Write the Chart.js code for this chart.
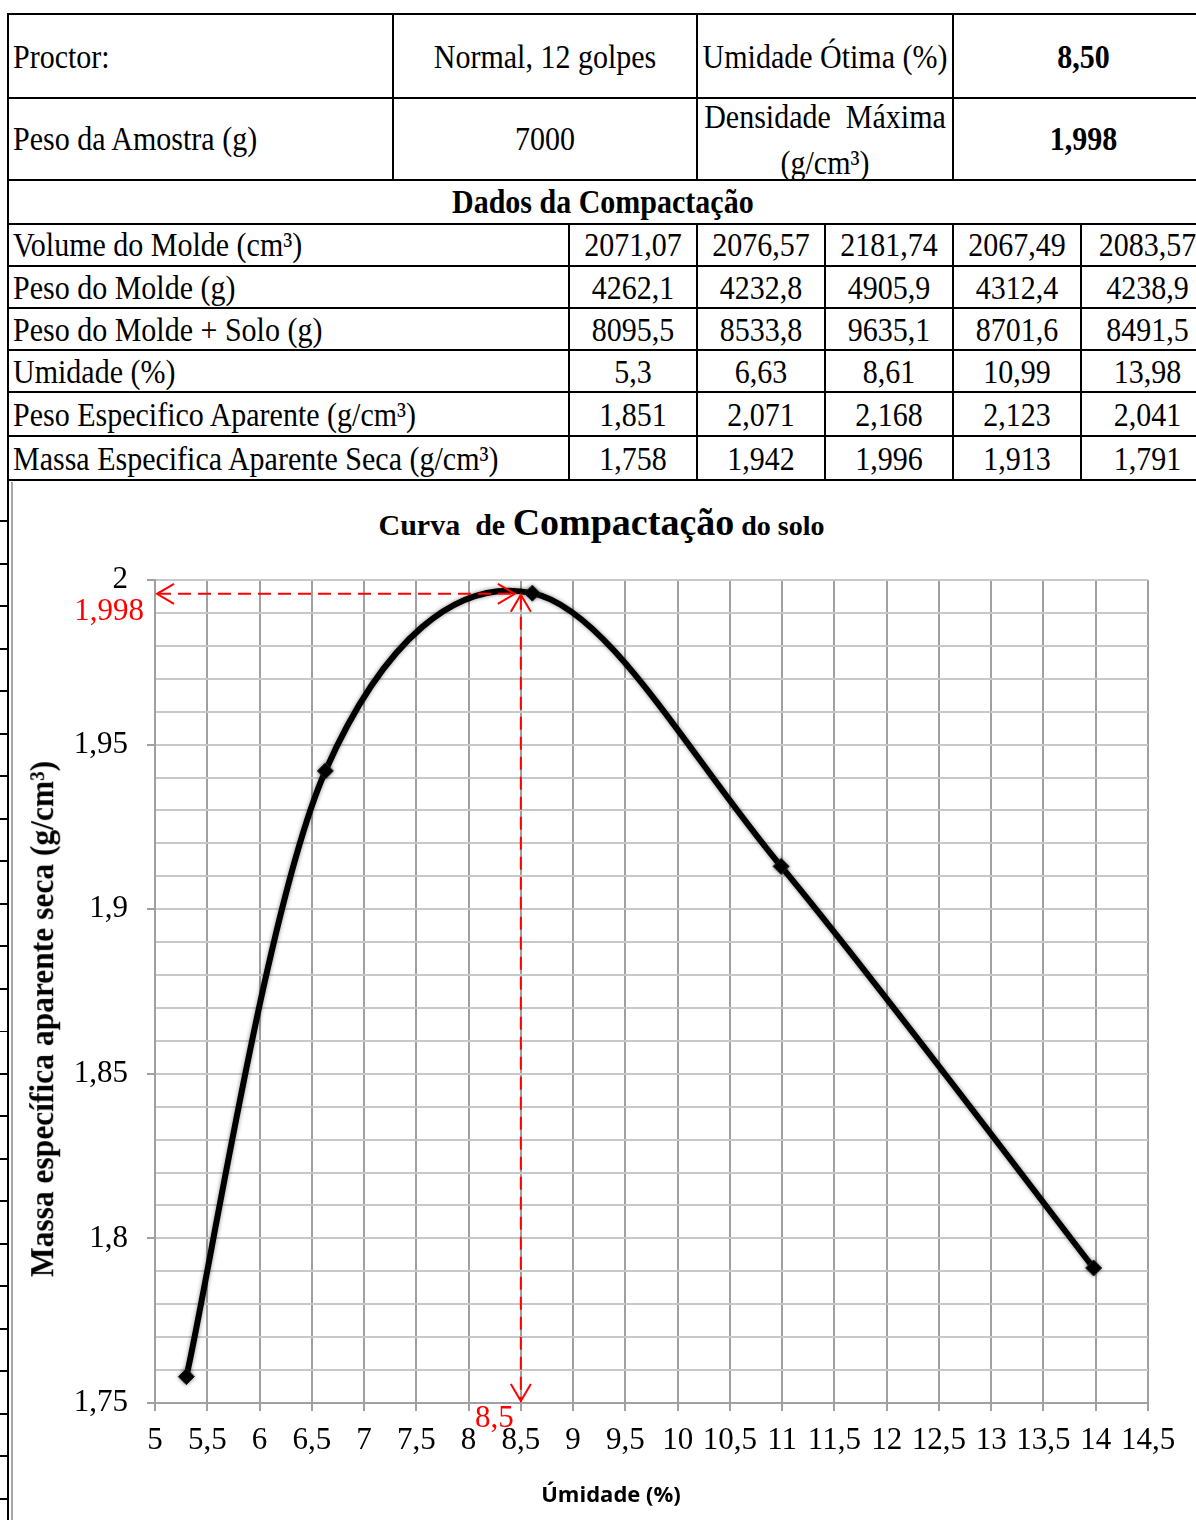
<!DOCTYPE html>
<html>
<head>
<meta charset="utf-8">
<script src="https://cdn.jsdelivr.net/npm/chart.js@4/dist/chart.umd.min.js"></script>
<style>
  html, body { margin: 0; padding: 0; background: #fff; }
  body { width: 1196px; height: 1520px; position: relative; overflow: hidden; font-family: 'Liberation Serif', 'Times New Roman', serif; }
  table.data { position: absolute; left: 7px; top: 13px; border-collapse: collapse; table-layout: fixed; width: 1206px; }
  table.data td { border: 2px solid #000; font-size: 30px; color: #000; padding: 0 4px; white-space: nowrap; overflow: hidden; }
  table.data td span { display: inline-block; transform: scaleY(1.15); }
  td.c { text-align: center; }
  td.b { font-weight: bold; }
  .frame-black { position: absolute; left: 7px; top: 480px; width: 2px; height: 1040px; background: #000; }
  .frame-gray { position: absolute; left: 11px; top: 482px; width: 2px; height: 1038px; background: #a6a6a6; }
  .frame-ticks { position: absolute; left: 0; top: 480px; width: 7px; height: 1040px;
    background: repeating-linear-gradient(to bottom, transparent 0, transparent 40.5px, #000 40.5px, #000 42.5px); }
  #wrap { position: absolute; left: 0; top: 482px; width: 1196px; height: 1038px; }
  .title { position: absolute; left: 0; width: 1203px; top: 497px; text-align: center; font-weight: bold; color: #000; white-space: nowrap; line-height: 50px; }
  .ytitle { position: absolute; left: 42px; top: 1019px; transform: translate(-50%, -50%) rotate(-90deg) scaleY(1.1); font-weight: bold; font-size: 31.5px; white-space: nowrap; color: #000; }
  .xtitle { position: absolute; left: 611px; top: 1493px; transform: translate(-50%, -50%); font-family: 'Open Sans', sans-serif; font-weight: bold; font-size: 22px; white-space: nowrap; color: #000; }
</style>
</head>
<body>
<table class="data">
  <colgroup>
    <col style="width:385px"><col style="width:176px"><col style="width:128px"><col style="width:128px"><col style="width:128px"><col style="width:128px"><col style="width:133px">
  </colgroup>
  <tr style="height:84px"><td><span>Proctor:</span></td><td class="c" colspan="2"><span>Normal, 12 golpes</span></td><td class="c" colspan="2"><span>Umidade Ótima (%)</span></td><td class="c b" colspan="2"><span>8,50</span></td></tr>
  <tr style="height:82px"><td><span>Peso da Amostra (g)</span></td><td class="c" colspan="2"><span>7000</span></td><td class="c" colspan="2" style="line-height:40px"><span>Densidade&nbsp; Máxima<br>(g/cm³)</span></td><td class="c b" colspan="2"><span>1,998</span></td></tr>
  <tr style="height:44px"><td class="c b" colspan="7" style="text-align:left;padding-left:443px"><span>Dados da Compactação</span></td></tr>
  <tr style="height:42px"><td colspan="2"><span>Volume do Molde (cm³)</span></td><td class="c"><span>2071,07</span></td><td class="c"><span>2076,57</span></td><td class="c"><span>2181,74</span></td><td class="c"><span>2067,49</span></td><td class="c"><span>2083,57</span></td></tr>
  <tr style="height:42px"><td colspan="2"><span>Peso do Molde (g)</span></td><td class="c"><span>4262,1</span></td><td class="c"><span>4232,8</span></td><td class="c"><span>4905,9</span></td><td class="c"><span>4312,4</span></td><td class="c"><span>4238,9</span></td></tr>
  <tr style="height:42px"><td colspan="2"><span>Peso do Molde + Solo (g)</span></td><td class="c"><span>8095,5</span></td><td class="c"><span>8533,8</span></td><td class="c"><span>9635,1</span></td><td class="c"><span>8701,6</span></td><td class="c"><span>8491,5</span></td></tr>
  <tr style="height:42px"><td colspan="2"><span>Umidade (%)</span></td><td class="c"><span>5,3</span></td><td class="c"><span>6,63</span></td><td class="c"><span>8,61</span></td><td class="c"><span>10,99</span></td><td class="c"><span>13,98</span></td></tr>
  <tr style="height:44px"><td colspan="2"><span>Peso Especifico Aparente (g/cm³)</span></td><td class="c"><span>1,851</span></td><td class="c"><span>2,071</span></td><td class="c"><span>2,168</span></td><td class="c"><span>2,123</span></td><td class="c"><span>2,041</span></td></tr>
  <tr style="height:44px"><td colspan="2"><span>Massa Especifica Aparente Seca (g/cm³)</span></td><td class="c"><span>1,758</span></td><td class="c"><span>1,942</span></td><td class="c"><span>1,996</span></td><td class="c"><span>1,913</span></td><td class="c"><span>1,791</span></td></tr>
</table>

<div class="frame-ticks"></div>
<div class="frame-black"></div>
<div class="frame-gray"></div>

<div class="title"><span style="font-size:30px">Curva&nbsp; de </span><span style="font-size:38px">Compactação</span><span style="font-size:28px"> do solo</span></div>
<div id="wrap"><canvas id="c" width="1196" height="1038"></canvas></div>
<div class="ytitle">Massa específica aparente seca (g/cm³)</div>
<div class="xtitle">Úmidade (%)</div>

<script>
// ---- data ----
const moisture = [5.3, 6.63, 8.61, 10.99, 13.98];
const dryDensity = [1.758, 1.942, 1.996, 1.913, 1.791];
const xTickValues = [5, 5.5, 6, 6.5, 7, 7.5, 8, 8.5, 9, 9.5, 10, 10.5, 11, 11.5, 12, 12.5, 13, 13.5, 14, 14.5];
const xTickLabels = ['5', '5,5', '6', '6,5', '7', '7,5', '8', '8,5', '9', '9,5', '10', '10,5', '11', '11,5', '12', '12,5', '13', '13,5', '14', '14,5'];
const yMajorValues = [1.75, 1.8, 1.85, 1.9, 1.95, 2];
const yMajorLabels = ['1,75', '1,8', '1,85', '1,9', '1,95', '2'];
const optimumMoisture = 8.5;      // Umidade ótima
const optimumLabel = '8,5';
const guideDensity = 1.9958;      // level of the dashed guide as drawn
const maxDensityLabel = '1,998';

function findLabel(values, labels, v) {
  for (let i = 0; i < values.length; i++) if (Math.abs(values[i] - v) < 1e-6) return labels[i];
  return '';
}

function arrow(ctx, x, y, dx, dy, len, half) {
  const px = -dy, py = dx;
  ctx.beginPath();
  ctx.moveTo(x - dx * len + px * half, y - dy * len + py * half);
  ctx.lineTo(x, y);
  ctx.lineTo(x - dx * len - px * half, y - dy * len - py * half);
  ctx.stroke();
}

// Spreadsheet-style smoothing: bezier handles = (next - prev) / 6 on each point
const smoothPlugin = {
  id: 'sheetSmooth',
  beforeDatasetDraw(chart, args) {
    const line = args.meta.dataset;
    const pts = args.meta.data;
    const n = pts.length;
    for (let i = 0; i < n; i++) {
      const prev = pts[Math.max(i - 1, 0)], cur = pts[i], next = pts[Math.min(i + 1, n - 1)];
      const dx = (next.x - prev.x) / 6, dy = (next.y - prev.y) / 6;
      cur.cp1x = cur.x - dx; cur.cp1y = cur.y - dy;
      cur.cp2x = cur.x + dx; cur.cp2y = cur.y + dy;
    }
    if (line) { line._pointsUpdated = true; line._path = undefined; }
  }
};

const guidePlugin = {
  id: 'guides',
  afterDatasetsDraw(chart) {
    const ctx = chart.ctx, xs = chart.scales.x, ys = chart.scales.y;
    const px = xs.getPixelForValue(optimumMoisture);
    const py = ys.getPixelForValue(guideDensity);
    const x0 = xs.getPixelForValue(xs.min);
    const y0 = ys.getPixelForValue(ys.min);
    ctx.save();
    ctx.strokeStyle = '#ff0000';
    ctx.lineWidth = 2;
    ctx.setLineDash([13, 7]);
    ctx.beginPath();
    ctx.moveTo(x0 + 3, py); ctx.lineTo(px - 6, py);
    ctx.moveTo(px, py + 3); ctx.lineTo(px, y0 - 3);
    ctx.stroke();
    ctx.setLineDash([]);
    arrow(ctx, x0 + 2, py, -1, 0, 17, 10);
    arrow(ctx, px - 6, py, 1, 0, 17, 10);
    arrow(ctx, px, py + 1, 0, -1, 17, 10);
    arrow(ctx, px, y0 - 2, 0, 1, 17, 10);
    ctx.fillStyle = '#ff0000';
    ctx.font = '31px "Liberation Serif"';
    ctx.textAlign = 'right';
    ctx.textBaseline = 'middle';
    ctx.fillText(maxDensityLabel, x0 - 11, py + 18);
    ctx.fillText(optimumLabel, px - 7, y0 + 16);
    ctx.restore();
  }
};

const markerShadow = {
  id: 'markerShadow',
  beforeDatasetDraw(chart) {
    const ctx = chart.ctx;
    ctx.save();
    ctx.shadowColor = 'rgba(0,0,0,0.45)';
    ctx.shadowBlur = 4;
  },
  afterDatasetDraw(chart) { chart.ctx.restore(); }
};

new Chart(document.getElementById('c'), {
  type: 'line',
  data: {
    datasets: [{
      data: moisture.map((m, i) => ({ x: m, y: dryDensity[i] })),
      borderColor: '#000',
      borderWidth: 6,
      tension: 0.33,
      pointStyle: 'rectRot',
      pointRadius: 8,
      pointBackgroundColor: '#000',
      pointBorderColor: '#222',
      pointBorderWidth: 1,
      fill: false
    }]
  },
  options: {
    responsive: false,
    animation: false,
    devicePixelRatio: 1,
    layout: { padding: { left: 10, right: 48, top: 98, bottom: 0 } },
    plugins: { legend: { display: false }, title: { display: false }, tooltip: { enabled: false } },
    scales: {
      x: {
        type: 'linear',
        min: 5, max: 14.5,
        afterFit(scale) { scale.height = 117; },
        ticks: {
          stepSize: 0.5,
          autoSkip: false,
          maxRotation: 0,
          padding: 11,
          color: '#000',
          font: { family: 'Liberation Serif', size: 31 },
          callback: (v) => findLabel(xTickValues, xTickLabels, v)
        },
        grid: { color: '#a0a0a0', lineWidth: 2, tickLength: 8, tickColor: '#a0a0a0' },
        border: { color: '#a0a0a0', width: 2 }
      },
      y: {
        min: 1.75, max: 2.0,
        afterFit(scale) { scale.width = 145; },
        ticks: {
          stepSize: 0.01,
          maxTicksLimit: 100,
          autoSkip: false,
          padding: 19,
          color: '#000',
          font: { family: 'Liberation Serif', size: 31 },
          callback: (v) => findLabel(yMajorValues, yMajorLabels, v)
        },
        grid: {
          color: '#c8c8c8', lineWidth: 2, tickLength: 8,
          tickColor: (c) => (c.tick && findLabel(yMajorValues, yMajorLabels, c.tick.value) !== '') ? '#a0a0a0' : 'rgba(0,0,0,0)'
        },
        border: { color: '#a0a0a0', width: 2 }
      }
    }
  },
  plugins: [smoothPlugin, markerShadow, guidePlugin]
});
</script>
</body>
</html>
